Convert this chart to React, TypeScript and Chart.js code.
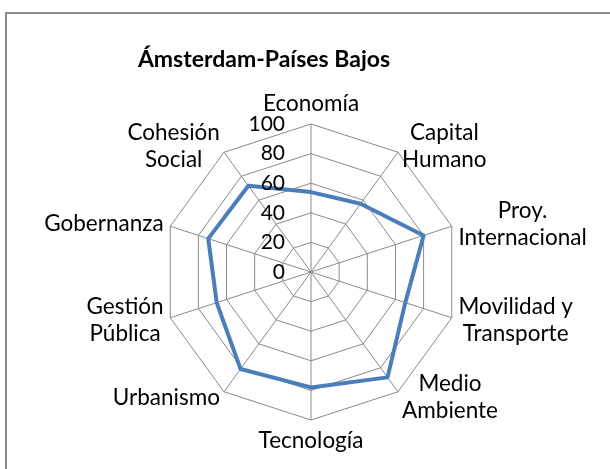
import React, { useEffect, useRef } from "react";
import { Chart, registerables } from "chart.js";

Chart.register(...registerables);

const TITLE = "Ámsterdam-Países Bajos";
const categories: string[][] = [
  ["Economía"],
  ["Capital", "Humano"],
  ["Proy.", "Internacional"],
  ["Movilidad y", "Transporte"],
  ["Medio", "Ambiente"],
  ["Tecnología"],
  ["Urbanismo"],
  ["Gestión", "Pública"],
  ["Gobernanza"],
  ["Cohesión", "Social"],
];
const values = [54, 57, 80, 67, 88, 78, 81, 67, 73, 72];
const tickValues = [0, 20, 40, 60, 80, 100];
const tickLabels = ["0", "20", "40", "60", "80", "100"];

const FONT = "Lato, 'Open Sans', sans-serif";
const LABEL_SIZE = 22.5;
const TICK_SIZE = 21;
const TITLE_SIZE = 23;
const LINE_H = 27;
const LABEL_PAD = 7;
const TICK_GAP = 26;
const GRID = "#8a8a8a";

const excelPlugin = {
  id: "excelLook",
  beforeDraw(chart: any) {
    const ctx = chart.ctx;
    ctx.save();
    ctx.fillStyle = "#ffffff";
    ctx.fillRect(0, 0, chart.width, chart.height);
    ctx.strokeStyle = "#8c8c8c";
    ctx.lineWidth = 2;
    ctx.beginPath();
    ctx.moveTo(6, chart.height + 5);
    ctx.lineTo(6, 13);
    ctx.lineTo(chart.width + 5, 13);
    ctx.stroke();
    ctx.fillStyle = "#000";
    ctx.font = `bold ${TITLE_SIZE}px ${FONT}`;
    ctx.textAlign = "center";
    ctx.textBaseline = "alphabetic";
    ctx.fillText(TITLE, 264, 67);
    ctx.restore();
  },
  afterDraw(chart: any) {
    const s = chart.scales.r;
    const ctx = chart.ctx;
    ctx.save();
    ctx.fillStyle = "#000";
    ctx.font = `${TICK_SIZE}px ${FONT}`;
    ctx.textAlign = "right";
    ctx.textBaseline = "middle";
    tickValues.forEach((v, k) => {
      const d = s.getDistanceFromCenterForValue(v);
      ctx.fillText(tickLabels[k], s.xCenter - TICK_GAP, s.yCenter - d);
    });
    ctx.font = `${LABEL_SIZE}px ${FONT}`;
    categories.forEach((lines, i) => {
      const a = s.getIndexAngle(i);
      const sx = Math.sin(a);
      const cy = Math.cos(a);
      const p = s.getPointPosition(i, s.drawingArea + LABEL_PAD);
      const w = Math.max(...lines.map((l) => ctx.measureText(l).width));
      const h = lines.length * LINE_H;
      const left = sx > 0.1 ? p.x : sx < -0.1 ? p.x - w : p.x - w / 2;
      const top = cy > 0.9 ? p.y - h : cy < -0.9 ? p.y : p.y - h / 2;
      ctx.textAlign = "center";
      ctx.textBaseline = "middle";
      lines.forEach((l, j) => ctx.fillText(l, left + w / 2, top + LINE_H * (j + 0.5)));
    });
    ctx.restore();
  },
};

export default function App() {
  const ref = useRef<HTMLCanvasElement | null>(null);
  useEffect(() => {
    if (!ref.current) return;
    const chart = new Chart(ref.current, {
      type: "radar",
      data: {
        labels: categories,
        datasets: [
          {
            label: TITLE,
            data: values,
            borderColor: "#4A7EBB",
            backgroundColor: "rgba(0,0,0,0)",
            borderWidth: 4,
            pointRadius: 0,
            pointHoverRadius: 0,
            fill: false,
            tension: 0,
            borderJoinStyle: "round",
          },
        ],
      },
      options: {
        responsive: false,
        animation: false,
        layout: { padding: { left: 163, top: 124, right: 151, bottom: 49 } },
        plugins: { legend: { display: false }, tooltip: { enabled: false }, title: { display: false } },
        scales: {
          r: {
            min: 0,
            max: 100,
            startAngle: 0,
            ticks: { stepSize: 20, display: false },
            grid: { color: GRID, lineWidth: 1 },
            angleLines: { color: GRID, lineWidth: 1 },
            pointLabels: { display: false },
          },
        },
      },
      plugins: [excelPlugin],
    });
    return () => chart.destroy();
  }, []);
  return (
    <div style={{ position: "fixed", left: 0, top: 0, width: 610, height: 469, background: "#fff" }}>
      <canvas ref={ref} width={610} height={469} style={{ display: "block" }} />
    </div>
  );
}
